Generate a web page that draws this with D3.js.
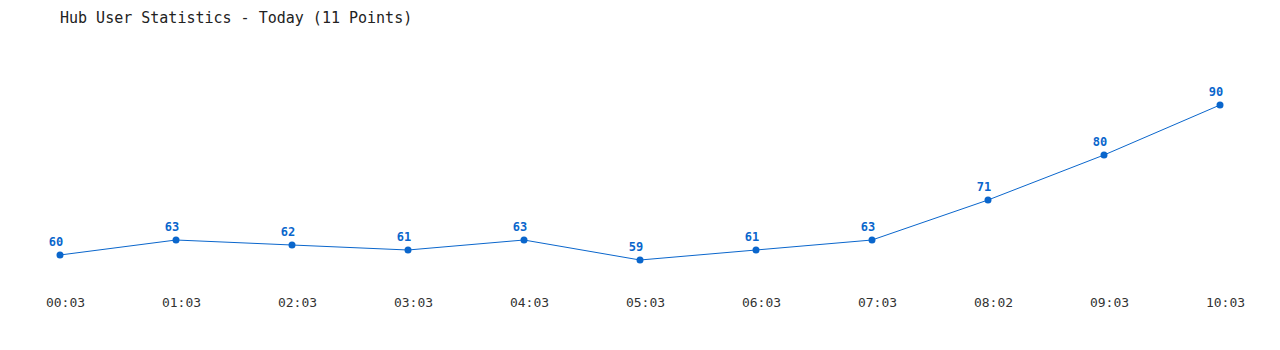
<!DOCTYPE html>
<html>
<head>
<meta charset="utf-8">
<script src="https://cdn.jsdelivr.net/npm/d3@7"></script>
<style>
  body { margin: 0; background: #fff; }
  text { font-family: "DejaVu Sans Mono", "Liberation Mono", monospace; }
</style>
</head>
<body>
<div id="viz"></div>
<script>
const times = ["00:03", "01:03", "02:03", "03:03", "04:03", "05:03", "06:03", "07:03", "08:02", "09:03", "10:03"];
const users = [60, 63, 62, 61, 63, 59, 61, 63, 71, 80, 90];

const width = 1280, height = 350;
const blue = "#0a66cc";

const svg = d3.select("#viz")
    .append("svg")
    .attr("width", width)
    .attr("height", height);

svg.append("text")
    .attr("x", 60)
    .attr("y", 23)
    .attr("font-size", 15)
    .attr("fill", "#222")
    .text("Hub User Statistics - Today (11 Points)");

const x = d3.scalePoint()
    .domain(times)
    .range([60, 1220]);

const y = d3.scaleLinear()
    .domain([59, 90])
    .range([260, 105]);

// x labels (sit a little right of the points, like the original)
const xAxis = d3.axisBottom(x).tickSize(0).tickPadding(0);
const gx = svg.append("g")
    .attr("transform", "translate(5,297)")
    .call(xAxis);
gx.select(".domain").remove();
gx.selectAll("text")
    .attr("font-family", "DejaVu Sans Mono, monospace")
    .attr("font-size", 13)
    .attr("fill", "#333")
    .attr("dy", "0.75em");

const line = d3.line()
    .x((d, i) => x(times[i]))
    .y(d => y(d));

svg.append("path")
    .datum(users)
    .attr("fill", "none")
    .attr("stroke", blue)
    .attr("stroke-width", 1)
    .attr("d", line);

svg.selectAll("circle")
    .data(users)
    .enter()
    .append("circle")
    .attr("cx", (d, i) => x(times[i]))
    .attr("cy", d => y(d))
    .attr("r", 3.5)
    .attr("fill", blue);

svg.selectAll("text.val")
    .data(users)
    .enter()
    .append("text")
    .attr("class", "val")
    .attr("x", (d, i) => x(times[i]) - 4)
    .attr("y", d => y(d) - 9)
    .attr("text-anchor", "middle")
    .attr("font-size", 12)
    .attr("font-weight", "bold")
    .attr("fill", blue)
    .text(d => d);
</script>
</body>
</html>
